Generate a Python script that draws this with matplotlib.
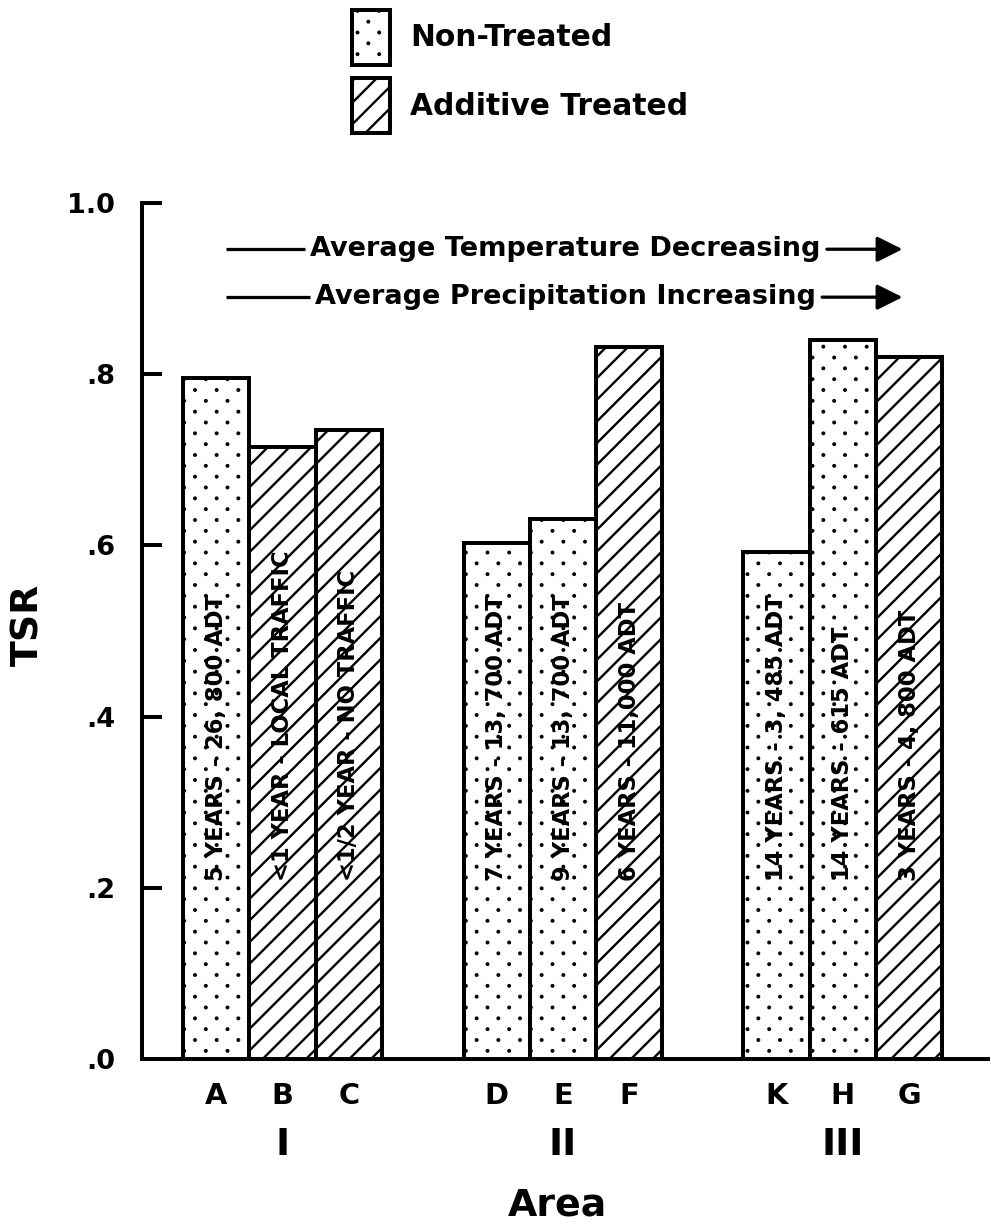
import numpy as np
import matplotlib
matplotlib.use("Agg")
import matplotlib.pyplot as plt
import matplotlib.hatch as mhatch
from matplotlib.path import Path
from matplotlib.transforms import blended_transform_factory

# ---------------- data ----------------
sites = ["A", "B", "C", "D", "E", "F", "K", "H", "G"]
tsr = [0.795, 0.715, 0.735, 0.603, 0.631, 0.832, 0.592, 0.840, 0.820]
treated = [False, True, True, False, False, True, False, False, True]
bar_notes = ["5 YEARS - 26, 800 ADT", "<1 YEAR - LOCAL TRAFFIC", "<1/2 YEAR - NO TRAFFIC",
             "7 YEARS - 13, 700 ADT", "9 YEARS - 13, 700 ADT", "6 YEARS - 11,000 ADT",
             "14 YEARS - 3, 485 ADT", "14 YEARS - 615 ADT", "3 YEARS - 4, 800 ADT"]
areas = ["I", "II", "III"]
area_members = [[0, 1, 2], [3, 4, 5], [6, 7, 8]]
yticks = [0.0, 0.2, 0.4, 0.6, 0.8, 1.0]
ytick_labels = [".0", ".2", ".4", ".6", ".8", "1.0"]
legend_labels = ["Non-Treated", "Additive Treated"]
trend_texts = ["Average Temperature Decreasing", "Average Precipitation Increasing"]

# ------------- sparse dot hatch (replaces '.') -------------
class SparseDots(mhatch.HatchPatternBase):
    filled = True

    def __init__(self, hatch, density):
        n = hatch.count('.')
        self.ncols = 6 * n
        self.nrows = 12 * n
        circ = Path.unit_circle()
        self.shape_vertices = circ.vertices * 0.006
        self.shape_codes = circ.codes
        if n == 0:
            self.num_vertices = 0
        else:
            even = self.nrows // 2 + 1
            odd = self.nrows // 2
            nshapes = even * (self.ncols + 1) + odd * self.ncols
            self.num_vertices = nshapes * len(self.shape_vertices)

    def set_vertices_and_codes(self, vertices, codes):
        vparts, cparts = [], []
        dx = 1.0 / self.ncols
        dy = 1.0 / self.nrows
        for row in range(self.nrows + 1):
            if row % 2 == 0:
                cols = np.linspace(0, 1, self.ncols + 1)
            else:
                cols = np.linspace(dx / 2, 1 - dx / 2, self.ncols)
            for c in cols:
                vparts.append(self.shape_vertices + [c, row * dy])
                cparts.append(self.shape_codes)
        np.concatenate(vparts, out=vertices)
        np.concatenate(cparts, out=codes)


mhatch._hatch_types = [SparseDots if t is mhatch.SmallFilledCircles else t
                       for t in mhatch._hatch_types]

plt.rcParams['font.family'] = ['DejaVu Sans']
plt.rcParams['hatch.linewidth'] = 1.3
plt.rcParams['hatch.color'] = 'black'

DPI = 130
fig = plt.figure(figsize=(991 / DPI, 1225 / DPI), dpi=DPI)
ax = fig.add_axes([142 / 991, 1 - 1059 / 1225, 1 - 142 / 991 - 0.003, (1059 - 203) / 1225])

# x positions of bars (grouped with gaps)
xpos = np.array([0, 1, 2, 4.23, 5.23, 6.23, 8.45, 9.45, 10.45])

nt_idx = [i for i in range(len(sites)) if not treated[i]]
tr_idx = [i for i in range(len(sites)) if treated[i]]
b_nt = ax.bar(xpos[nt_idx], [tsr[i] for i in nt_idx], width=1.0, facecolor='white',
              edgecolor='black', linewidth=2.2, hatch='.', label=legend_labels[0], zorder=2)
b_tr = ax.bar(xpos[tr_idx], [tsr[i] for i in tr_idx], width=1.0, facecolor='white',
              edgecolor='black', linewidth=2.2, hatch='//', label=legend_labels[1], zorder=2)

ax.set_xlim(-1.12, 11.64)
ax.set_ylim(0, 1.0)

for s in ['top', 'right']:
    ax.spines[s].set_visible(False)
ax.spines['left'].set_linewidth(2.2)
ax.spines['bottom'].set_linewidth(2.2)

ax.set_yticks(yticks)
ax.set_yticklabels(ytick_labels, fontsize=15, fontweight='bold')
ax.tick_params(axis='y', direction='in', length=11, width=2.2, pad=15)
ax.set_xticks(xpos)
ax.set_xticklabels(sites, fontsize=16, fontweight='bold')
ax.tick_params(axis='x', length=0, pad=13)

# notes inside bars
for x, note in zip(xpos, bar_notes):
    ax.text(x, 0.208, note, rotation=90, ha='center', va='bottom',
            fontsize=12.5, fontweight='bold', zorder=3)

# area numerals
tr_fig = blended_transform_factory(ax.transData, fig.transFigure)
for name, members in zip(areas, area_members):
    ax.text(np.mean(xpos[members]), 1 - 1145 / 1225, name, transform=tr_fig,
            ha='center', va='center', fontsize=21, fontweight='heavy')

fig.text(557 / 991, 1 - 1205 / 1225, "Area", ha='center', va='center',
         fontsize=21, fontweight='bold')
fig.text(28 / 991, 1 - 625 / 1225, "TSR", ha='center', va='center', rotation=90,
         fontsize=21, fontweight='bold')

# trend annotations with lines and arrows
trend_y = [0.946, 0.890]
txts = []
for t, y in zip(trend_texts, trend_y):
    txts.append(ax.text(5.27, y, t, ha='center', va='center', fontsize=15,
                        fontweight='bold'))
fig.canvas.draw()
inv = ax.transData.inverted()
rend = fig.canvas.get_renderer()
for tx, y in zip(txts, trend_y):
    bb = tx.get_window_extent(rend)
    x0 = inv.transform((bb.x0 - 5, 0))[0]
    x1 = inv.transform((bb.x1 + 6, 0))[0]
    ax.plot([0.14, x0], [y, y], color='black', lw=1.8, solid_capstyle='butt')
    ax.annotate("", xy=(10.35, y), xytext=(x1, y),
                arrowprops=dict(arrowstyle='-|>,head_length=0.6,head_width=0.3',
                                color='black', lw=1.8, mutation_scale=20,
                                shrinkA=0, shrinkB=0))

# legend
fig.legend(handles=[b_nt, b_tr], labels=legend_labels, loc='upper left',
           bbox_to_anchor=(352 / 991, 1 - 10 / 1225), frameon=False,
           prop=dict(size=16.5, weight='bold'), handlelength=1.28, handleheight=2.45,
           handletextpad=0.67, labelspacing=0.45, borderpad=0, borderaxespad=0)

fig.savefig("out.png", dpi=DPI)
